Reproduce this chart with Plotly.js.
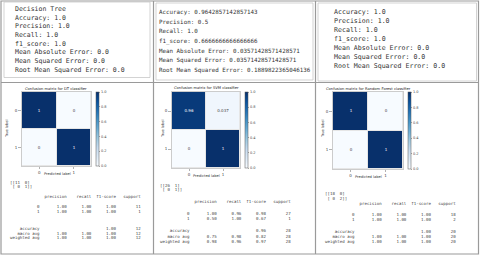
<!DOCTYPE html>
<html><head><meta charset="utf-8">
<script src="https://cdn.plot.ly/plotly-3.0.1.min.js"></script>
<style>html,body{margin:0;padding:0;background:#fff}#chart{width:480px;height:257px}</style>
</head><body><div id="chart"></div><script>
// ---------- data ----------
const classes = ['0', '1'];
const metricNames = ['Accuracy', 'Precision', 'Recall', 'f1_score', 'Mean Absolute Error', 'Mean Squared Error', 'Root Mean Squared Error'];
const dtMetrics  = ['1.0', '1.0', '1.0', '1.0', '0.0', '0.0', '0.0'];
const svmMetrics = ['0.9642857142857143', '0.5', '1.0', '0.6666666666666666', '0.03571428571428571', '0.03571428571428571', '0.1889822365046136'];
const rfMetrics  = ['1.0', '1.0', '1.0', '1.0', '0.0', '0.0', '0.0'];

const dtCounts  = [[11, 0], [0, 1]];
const svmCounts = [[26, 1], [0, 1]];
const rfCounts  = [[18, 0], [0, 2]];

const dtPrecision = [1.00, 1.00], dtRecall = [1.00, 1.00], dtF1 = [1.00, 1.00], dtSupport = [11, 1];
const dtAccuracy = 1.00, dtMacro = [1.00, 1.00, 1.00], dtWeighted = [1.00, 1.00, 1.00], dtTotal = 12;
const svmPrecision = [1.00, 0.50], svmRecall = [0.96, 1.00], svmF1 = [0.98, 0.67], svmSupport = [27, 1];
const svmAccuracy = 0.96, svmMacro = [0.75, 0.98, 0.82], svmWeighted = [0.98, 0.96, 0.97], svmTotal = 28;
const rfPrecision = [1.00, 1.00], rfRecall = [1.00, 1.00], rfF1 = [1.00, 1.00], rfSupport = [18, 2];
const rfAccuracy = 1.00, rfMacro = [1.00, 1.00, 1.00], rfWeighted = [1.00, 1.00, 1.00], rfTotal = 20;

const titles = ['Confusion matrix for DT classifier', 'Confusion matrix for SVM classifier', 'Confusion matrix for Random Forest classifier'];
const cbTicks = [0, 0.2, 0.4, 0.6, 0.8, 1.0];

// ---------- helpers ----------
const W = 480, H = 257;
const PX = x => x / W, PY = y => 1 - y / H;
const nb = s => s.replace(/ /g, '\u00a0');
const normalize = m => m.map(r => { const s = r.reduce((a, b) => a + b, 0); return r.map(v => v / s); });
const fmtCell = v => String(Number(v.toPrecision(2)));
const blues = [[0, '#f7fbff'], [0.125, '#deebf7'], [0.25, '#c6dbef'], [0.375, '#9ecae1'], [0.5, '#6baed6'], [0.625, '#4292c6'], [0.75, '#2171b5'], [0.875, '#08519c'], [1, '#08306b']];

function matLines(m) {
  const w = Math.max(...m.flat().map(v => String(v).length));
  const row = r => r.map(v => String(v).padStart(w)).join(' ');
  return ['[[' + row(m[0]) + ']', ' [' + row(m[1]) + ']]'];
}
function reportLines(p, r, f, s, acc, mac, wt, tot) {
  const c = v => ' ' + v.padStart(9);
  const lines = [];
  lines.push(''.padStart(12) + ' ' + c('precision') + c('recall') + c('f1-score') + c('support'));
  classes.forEach((k, i) => lines.push(k.padStart(12) + ' ' + c(p[i].toFixed(2)) + c(r[i].toFixed(2)) + c(f[i].toFixed(2)) + c(String(s[i]))));
  lines.push('accuracy'.padStart(12) + ' ' + c('') + c('') + c(acc.toFixed(2)) + c(String(tot)));
  lines.push('macro avg'.padStart(12) + ' ' + mac.map(v => c(v.toFixed(2))).join('') + c(String(tot)));
  lines.push('weighted avg'.padStart(12) + ' ' + wt.map(v => c(v.toFixed(2))).join('') + c(String(tot)));
  return lines;
}

const annotations = [];
function txt(x, y, t, size, opt) {
  annotations.push(Object.assign({
    xref: 'paper', yref: 'paper', x: PX(x), y: PY(y), text: nb(t), showarrow: false,
    xanchor: 'left', yanchor: 'middle', font: {family: 'DejaVu Sans Mono', size: size, color: '#333'}
  }, opt || {}));
}

// ---------- top metric texts ----------
const col1Lines = ['Decision Tree'].concat(metricNames.map((n, i) => n + ': ' + dtMetrics[i]));
col1Lines.forEach((l, i) => txt(13, 9 + i * 8.7, l, 6.5));
svmMetrics.forEach((v, i) => txt(157, 12 + i * 9.67, metricNames[i] + ': ' + v, 5.85));
rfMetrics.forEach((v, i) => txt(332, 12 + i * 9.0, metricNames[i] + ': ' + v, 6.6));

// ---------- reports ----------
const rcol = '#444', rsz = 4.1;
const reports = [
  {x: 8, my: [182, 186.5], ly: [196, 206, 211, 228, 233, 237.5], m: dtCounts, lines: reportLines(dtPrecision, dtRecall, dtF1, dtSupport, dtAccuracy, dtMacro, dtWeighted, dtTotal)},
  {x: 158, my: [185, 189.5], ly: [201, 213, 218, 230, 236, 241], m: svmCounts, lines: reportLines(svmPrecision, svmRecall, svmF1, svmSupport, svmAccuracy, svmMacro, svmWeighted, svmTotal)},
  {x: 322.5, my: [193, 198], ly: [203, 214, 219, 231, 236, 241], m: rfCounts, lines: reportLines(rfPrecision, rfRecall, rfF1, rfSupport, rfAccuracy, rfMacro, rfWeighted, rfTotal)}
];
reports.forEach(R => {
  matLines(R.m).forEach((l, i) => txt(R.x, R.my[i], l, rsz, {font: {family: 'DejaVu Sans Mono', size: rsz, color: rcol}}));
  R.lines.forEach((l, i) => txt(R.x, R.ly[i], l, rsz, {font: {family: 'DejaVu Sans Mono', size: rsz, color: rcol}}));
});

// ---------- heatmaps ----------
const boxes = [
  {x0: 22, x1: 91, y0: 92, y1: 166, cb: 96, tx: 56, ty: 89, tl: 7, pl: [57, 174]},
  {x0: 172, x1: 240, y0: 92, y1: 168, cb: 245, tx: 206, ty: 87.5, tl: 163, pl: [206, 176]},
  {x0: 333, x1: 403, y0: 92, y1: 169, cb: 408, tx: 368, ty: 89, tl: 323, pl: [368, 177]}
];
const counts = [dtCounts, svmCounts, rfCounts];
const traces = [];
const layout = {
  width: W, height: H, margin: {l: 0, r: 0, t: 0, b: 0}, paper_bgcolor: '#fff', plot_bgcolor: '#e6e6e6',
  showlegend: false, annotations: annotations, shapes: []
};
const sans = 'DejaVu Sans';
boxes.forEach((b, i) => {
  const z = normalize(counts[i]);
  const sx = i === 0 ? '' : String(i + 1);
  traces.push({
    type: 'heatmap', x: classes, y: classes, z: z, zmin: 0, zmax: 1, colorscale: blues,
    text: z.map(r => r.map(fmtCell)), texttemplate: '%{text}', textfont: {size: 4, family: sans},
    xgap: 1, ygap: 1, hoverinfo: 'skip',
    xaxis: 'x' + sx, yaxis: 'y' + sx,
    colorbar: {
      x: PX(b.cb), xanchor: 'left', xpad: 0, ypad: 0, y: (PY(b.y0) + PY(b.y1)) / 2, yanchor: 'middle',
      len: (b.y1 - b.y0) / H, lenmode: 'fraction', thickness: 3, thicknessmode: 'pixels',
      tickvals: cbTicks, ticktext: cbTicks.map(v => v.toFixed(1)), ticks: 'outside', ticklen: 1.5, tickwidth: 0.5,
      tickcolor: '#555', tickfont: {size: 3.5, family: sans, color: '#444'}, outlinewidth: 0.5, outlinecolor: '#555'
    }
  });
  const ax = {
    domain: [PX(b.x0), PX(b.x1)], anchor: 'y' + sx, type: 'category', showgrid: false, zeroline: false,
    showline: true, mirror: true, linecolor: '#ccc', linewidth: 1, ticks: 'outside', ticklen: 2, tickwidth: 0.5,
    tickcolor: '#666', tickfont: {size: 4, family: sans, color: '#444'}, fixedrange: true
  };
  const ay = Object.assign({}, ax, {domain: [PY(b.y1), PY(b.y0)], anchor: 'x' + sx, autorange: 'reversed', ticklen: 3});
  layout['xaxis' + sx] = ax;
  layout['yaxis' + sx] = ay;
  txt(b.tx, b.ty, titles[i], 3.7, {xanchor: 'center', font: {family: sans, size: 3.7, color: '#222'}});
  txt(b.tl, 129, 'True label', 3.6, {xanchor: 'center', textangle: -90, font: {family: sans, size: 3.6, color: '#333'}});
  txt(b.pl[0], b.pl[1], 'Predicted label', 3.6, {xanchor: 'center', font: {family: sans, size: 3.6, color: '#333'}});
});

// ---------- frame lines ----------
function rect(x0, y0, x1, y1, c, w) {
  layout.shapes.push({type: 'rect', xref: 'paper', yref: 'paper', x0: PX(x0), x1: PX(x1), y0: PY(y1), y1: PY(y0), line: {color: c, width: w}});
}
function line(x0, y0, x1, y1, c, w) {
  layout.shapes.push({type: 'line', xref: 'paper', yref: 'paper', x0: PX(x0), x1: PX(x1), y0: PY(y0), y1: PY(y1), line: {color: c, width: w}});
}
rect(1, 1, 478.5, 254, '#9a9a9a', 1.2);
line(153.5, 1, 153.5, 254, '#9a9a9a', 1.2);
line(315.5, 1, 315.5, 254, '#9a9a9a', 1.2);
line(1, 82.5, 478.5, 82.5, '#9a9a9a', 1.2);
rect(4, 2, 150, 77.5, '#c8c8c8', 0.8);
rect(156, 3, 313, 80, '#c8c8c8', 0.8);
rect(318, 3, 476.5, 81, '#c8c8c8', 0.8);

Plotly.newPlot('chart', traces, layout, {staticPlot: true, displayModeBar: false});
</script></body></html>
